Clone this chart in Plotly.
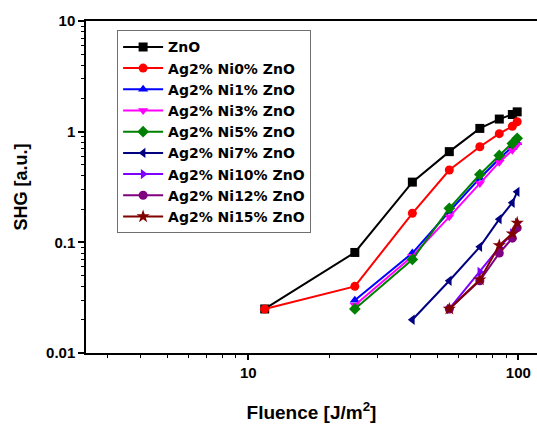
import plotly.graph_objects as go

series_names = ["ZnO", "Ag2% Ni0% ZnO", "Ag2% Ni1% ZnO", "Ag2% Ni3% ZnO", "Ag2% Ni5% ZnO",
                "Ag2% Ni7% ZnO", "Ag2% Ni10% ZnO", "Ag2% Ni12% ZnO", "Ag2% Ni15% ZnO"]

x_zno = [11.5, 24.8, 40.5, 55.5, 72, 85, 95, 99]
y_zno = [0.025, 0.081, 0.35, 0.66, 1.07, 1.30, 1.43, 1.51]

x_ni0 = [11.5, 24.8, 40.5, 55.5, 72, 85, 95, 99]
y_ni0 = [0.025, 0.040, 0.183, 0.45, 0.73, 0.96, 1.12, 1.23]

x_ni1 = [24.8, 40.5, 55.5, 72, 85, 95, 99]
y_ni1 = [0.030, 0.080, 0.19, 0.38, 0.57, 0.72, 0.80]

x_ni3 = [24.8, 40.5, 55.5, 72, 85, 95, 99]
y_ni3 = [0.027, 0.075, 0.17, 0.34, 0.53, 0.68, 0.76]

x_ni5 = [24.8, 40.5, 55.5, 72, 85, 95, 99]
y_ni5 = [0.025, 0.070, 0.203, 0.41, 0.61, 0.78, 0.87]

x_ni7 = [40.5, 55.5, 72, 85, 95, 99]
y_ni7 = [0.020, 0.045, 0.091, 0.162, 0.228, 0.286]

x_ni10 = [55.5, 72, 85, 95, 99]
y_ni10 = [0.025, 0.054, 0.09, 0.12, 0.15]

x_ni12 = [55.5, 72, 85, 95, 99]
y_ni12 = [0.025, 0.045, 0.080, 0.109, 0.135]

x_ni15 = [55.5, 72, 85, 95, 99]
y_ni15 = [0.025, 0.046, 0.094, 0.12, 0.15]

colors = ["#000000", "#FF0000", "#0000FF", "#FF00FF", "#008000",
          "#000080", "#8000FF", "#800080", "#800000"]
symbols = ["square", "circle", "triangle-up", "triangle-down", "diamond",
           "triangle-left", "triangle-right", "circle", "star"]

xs = [x_zno, x_ni0, x_ni1, x_ni3, x_ni5, x_ni7, x_ni10, x_ni12, x_ni15]
ys = [y_zno, y_ni0, y_ni1, y_ni3, y_ni5, y_ni7, y_ni10, y_ni12, y_ni15]

y_tickvals = [0.01, 0.1, 1, 10]
y_ticktext = ["0.01", "0.1", "1", "10"]
x_tickvals = [10, 100]
x_ticktext = ["10", "100"]

fig = go.Figure()
for name, x, y, c, s in zip(series_names, xs, ys, colors, symbols):
    fig.add_trace(go.Scatter(
        x=x, y=y, mode="lines+markers", name=name,
        line=dict(color=c, width=2),
        marker=dict(color=c, symbol=s, size=9 if s != "star" else 10,
                    line=dict(width=0)),
    ))

font = dict(family="Liberation Sans, Arial, sans-serif", color="black", weight="bold")

fig.update_layout(
    width=537, height=425,
    margin=dict(l=86, r=0, t=21, b=72),
    plot_bgcolor="white", paper_bgcolor="white",
    font=dict(**font, size=14),
    showlegend=True,
    legend=dict(
        x=0.069, y=0.972, xanchor="left", yanchor="top",
        bgcolor="white", bordercolor="#707070", borderwidth=1,
        font=dict(family="DejaVu Sans, Liberation Sans, sans-serif", color="black",
                  weight="bold", size=14),
        itemwidth=40, tracegroupgap=0,
    ),
    xaxis=dict(
        type="log", range=[0.399, 2.069], automargin=False,
        tickvals=x_tickvals, ticktext=x_ticktext,
        ticks="outside", ticklen=5, tickwidth=1.5, tickcolor="black",
        minor=dict(ticks="outside", ticklen=3, tickwidth=1, tickcolor="black",
                   dtick="D1", showgrid=False),
        showline=True, linecolor="black", linewidth=1.5, mirror=True,
        showgrid=False, zeroline=False,
        tickfont=dict(**font, size=15),
        title=dict(text="Fluence [J/m<sup>2</sup>]", font=dict(**font, size=19), standoff=26),
    ),
    yaxis=dict(
        type="log", range=[-2, 1], automargin=False,
        tickvals=y_tickvals, ticktext=y_ticktext,
        ticks="outside", ticklen=6, tickwidth=1.5, tickcolor="black",
        minor=dict(ticks="outside", ticklen=3, tickwidth=1, tickcolor="black",
                   dtick="D1", showgrid=False),
        showline=True, linecolor="black", linewidth=1.5, mirror=True,
        showgrid=False, zeroline=False,
        tickfont=dict(**font, size=15),
        title=dict(text="SHG [a.u.]", font=dict(**font, size=18), standoff=14),
    ),
)

fig.write_html("out.html", config={"displayModeBar": False},
               post_script="document.body.style.margin='0';")
